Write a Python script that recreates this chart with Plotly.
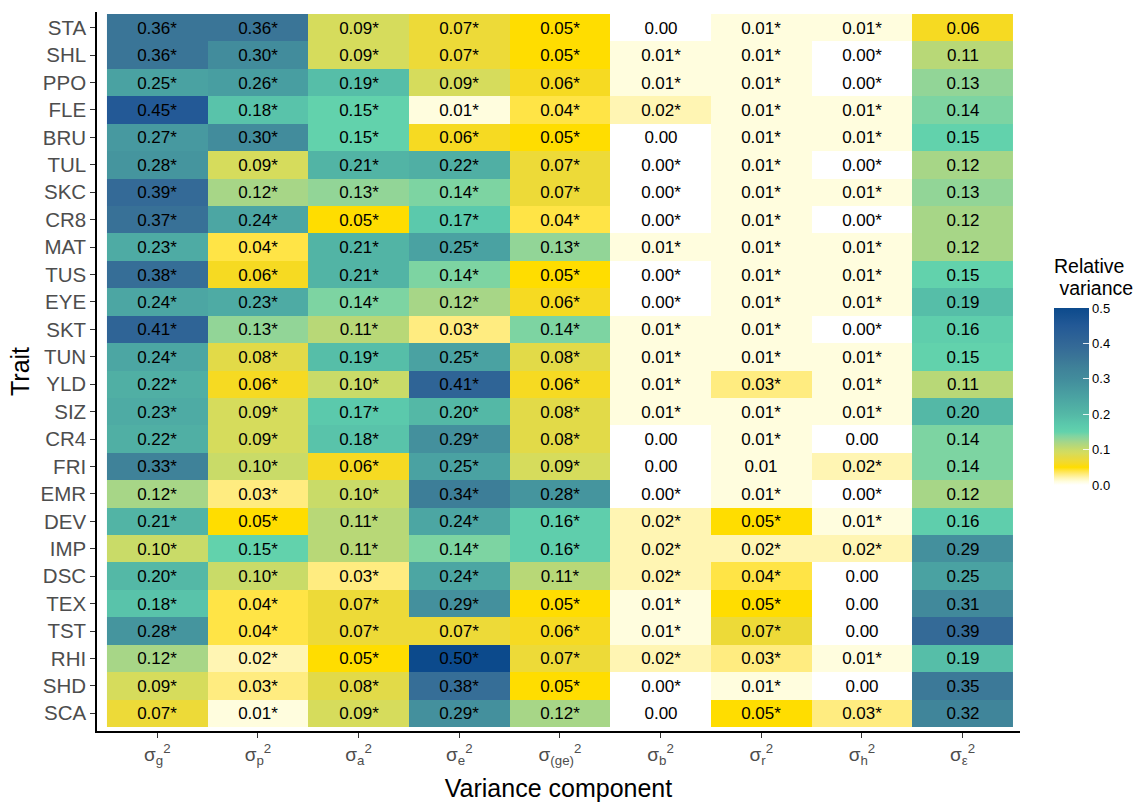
import plotly.graph_objects as go

traits = ["STA", "SHL", "PPO", "FLE", "BRU", "TUL", "SKC", "CR8", "MAT", "TUS", "EYE", "SKT", "TUN",
          "YLD", "SIZ", "CR4", "FRI", "EMR", "DEV", "IMP", "DSC", "TEX", "TST", "RHI", "SHD", "SCA"]

components = ["σ<sub>g</sub><sup>2</sup>", "σ<sub>p</sub><sup>2</sup>", "σ<sub>a</sub><sup>2</sup>",
              "σ<sub>e</sub><sup>2</sup>", "σ<sub>(ge)</sub><sup>2</sup>", "σ<sub>b</sub><sup>2</sup>",
              "σ<sub>r</sub><sup>2</sup>", "σ<sub>h</sub><sup>2</sup>", "σ<sub>ε</sub><sup>2</sup>"]

# relative variance per component (rows follow `traits`)
var_g = [0.36, 0.36, 0.25, 0.45, 0.27, 0.28, 0.39, 0.37, 0.23, 0.38, 0.24, 0.41, 0.24,
         0.22, 0.23, 0.22, 0.33, 0.12, 0.21, 0.10, 0.20, 0.18, 0.28, 0.12, 0.09, 0.07]
var_p = [0.36, 0.30, 0.26, 0.18, 0.30, 0.09, 0.12, 0.24, 0.04, 0.06, 0.23, 0.13, 0.08,
         0.06, 0.09, 0.09, 0.10, 0.03, 0.05, 0.15, 0.10, 0.04, 0.04, 0.02, 0.03, 0.01]
var_a = [0.09, 0.09, 0.19, 0.15, 0.15, 0.21, 0.13, 0.05, 0.21, 0.21, 0.14, 0.11, 0.19,
         0.10, 0.17, 0.18, 0.06, 0.10, 0.11, 0.11, 0.03, 0.07, 0.07, 0.05, 0.08, 0.09]
var_e = [0.07, 0.07, 0.09, 0.01, 0.06, 0.22, 0.14, 0.17, 0.25, 0.14, 0.12, 0.03, 0.25,
         0.41, 0.20, 0.29, 0.25, 0.34, 0.24, 0.14, 0.24, 0.29, 0.07, 0.50, 0.38, 0.29]
var_ge = [0.05, 0.05, 0.06, 0.04, 0.05, 0.07, 0.07, 0.04, 0.13, 0.05, 0.06, 0.14, 0.08,
          0.06, 0.08, 0.08, 0.09, 0.28, 0.16, 0.16, 0.11, 0.05, 0.06, 0.07, 0.05, 0.12]
var_b = [0.00, 0.01, 0.01, 0.02, 0.00, 0.00, 0.00, 0.00, 0.01, 0.00, 0.00, 0.01, 0.01,
         0.01, 0.01, 0.00, 0.00, 0.00, 0.02, 0.02, 0.02, 0.01, 0.01, 0.02, 0.00, 0.00]
var_r = [0.01, 0.01, 0.01, 0.01, 0.01, 0.01, 0.01, 0.01, 0.01, 0.01, 0.01, 0.01, 0.01,
         0.03, 0.01, 0.01, 0.01, 0.01, 0.05, 0.02, 0.04, 0.05, 0.07, 0.03, 0.01, 0.05]
var_h = [0.01, 0.00, 0.00, 0.01, 0.01, 0.00, 0.01, 0.00, 0.01, 0.01, 0.01, 0.00, 0.01,
         0.01, 0.01, 0.00, 0.02, 0.00, 0.01, 0.02, 0.00, 0.00, 0.00, 0.01, 0.00, 0.03]
var_eps = [0.06, 0.11, 0.13, 0.14, 0.15, 0.12, 0.13, 0.12, 0.12, 0.15, 0.19, 0.16, 0.15,
           0.11, 0.20, 0.14, 0.14, 0.12, 0.16, 0.29, 0.25, 0.31, 0.39, 0.19, 0.35, 0.32]

# significance flags (1 = marked with *)
sig_g = [1] * 26
sig_p = [1] * 26
sig_a = [1] * 26
sig_e = [1] * 26
sig_ge = [1] * 26
sig_b = [0, 1, 1, 1, 0, 1, 1, 1, 1, 1, 1, 1, 1, 1, 1, 0, 0, 1, 1, 1, 1, 1, 1, 1, 1, 0]
sig_r = [1, 1, 1, 1, 1, 1, 1, 1, 1, 1, 1, 1, 1, 1, 1, 1, 0, 1, 1, 1, 1, 1, 1, 1, 1, 1]
sig_h = [1, 1, 1, 1, 1, 1, 1, 1, 1, 1, 1, 1, 1, 1, 1, 0, 1, 1, 1, 1, 0, 0, 0, 1, 0, 1]
sig_eps = [0] * 26

cbar_ticks = [0.0, 0.1, 0.2, 0.3, 0.4, 0.5]
legend_title_lines = ["Relative", " variance"]

columns = [var_g, var_p, var_a, var_e, var_ge, var_b, var_r, var_h, var_eps]
sigs = [sig_g, sig_p, sig_a, sig_e, sig_ge, sig_b, sig_r, sig_h, sig_eps]

n_rows = len(traits)
n_cols = len(components)
z = [[columns[j][i] for j in range(n_cols)] for i in range(n_rows)]
text = [[f"{columns[j][i]:.2f}" + ("*" if sigs[j][i] else "") for j in range(n_cols)]
        for i in range(n_rows)]

colorscale = [
    [0.00, "#FFFFFF"],
    [0.02, "#FFFDDE"],
    [0.04, "#FFF5B3"],
    [0.06, "#FFEC80"],
    [0.08, "#FFE446"],
    [0.10, "#FFDD00"],
    [0.12, "#F6DA22"],
    [0.14, "#EDDA38"],
    [0.16, "#E2DA48"],
    [0.18, "#D6DC5C"],
    [0.20, "#C9DB68"],
    [0.22, "#B8D877"],
    [0.24, "#A7D687"],
    [0.26, "#92D597"],
    [0.28, "#7DD4A2"],
    [0.30, "#62D2AC"],
    [0.34, "#5BC9AC"],
    [0.40, "#54B8A6"],
    [0.50, "#4AA2A2"],
    [0.60, "#428C9C"],
    [0.66, "#3F8299"],
    [0.72, "#3A7597"],
    [0.78, "#346A97"],
    [0.82, "#2F6496"],
    [0.90, "#235996"],
    [1.00, "#0C4A8C"],
]

font_family = "Liberation Sans, Arial, sans-serif"

# plot-area geometry (pixels)
PX0, PX1, PY0, PY1 = 97, 1020, 12, 731
W, H = 1138, 803


def px_to_paper_x(px):
    return (px - PX0) / (PX1 - PX0)


def px_to_paper_y(py):
    return (PY1 - py) / (PY1 - PY0)


fig = go.Figure(
    go.Heatmap(
        z=z,
        x=list(range(n_cols)),
        y=list(range(n_rows)),
        text=text,
        texttemplate="%{text}",
        textfont=dict(size=17, color="black", family=font_family),
        colorscale=colorscale,
        zmin=0,
        zmax=0.5,
        xgap=0,
        ygap=0,
        hoverinfo="skip",
        colorbar=dict(
            x=px_to_paper_x(1054),
            xanchor="left",
            y=px_to_paper_y(396.5),
            yanchor="middle",
            len=177,
            lenmode="pixels",
            thickness=35,
            thicknessmode="pixels",
            outlinewidth=0,
            xpad=0,
            ypad=0,
            tickvals=cbar_ticks,
            ticktext=[f"{v:.1f}" for v in cbar_ticks],
            ticks="inside",
            ticklen=6,
            tickcolor="rgba(255,255,255,0.85)",
            tickfont=dict(size=13, color="black", family=font_family),
        ),
    )
)

for k, (line, cy) in enumerate(zip(legend_title_lines, [266, 288])):
    fig.add_annotation(
        text=line,
        xref="paper", yref="paper",
        x=px_to_paper_x(1052), y=px_to_paper_y(cy),
        xanchor="left", yanchor="middle",
        align="left",
        showarrow=False,
        font=dict(size=19.5, color="black", family=font_family),
    )

fig.update_layout(
    width=W,
    height=H,
    margin=dict(l=PX0, r=W - PX1, t=PY0, b=H - PY1),
    plot_bgcolor="white",
    paper_bgcolor="white",
    font=dict(family=font_family),
    xaxis=dict(
        range=[-0.599, 8.57],
        tickmode="array",
        tickvals=list(range(n_cols)),
        ticktext=components,
        ticks="outside",
        ticklen=5,
        tickwidth=1.2,
        tickcolor="#333333",
        showline=True,
        linecolor="black",
        linewidth=1.5,
        showgrid=False,
        zeroline=False,
        tickfont=dict(size=19, color="#4D4D4D", family=font_family),
        title=dict(text="Variance component", standoff=13,
                   font=dict(size=25, color="black", family=font_family)),
        automargin=False,
    ),
    yaxis=dict(
        range=[25.646, -0.573],
        tickmode="array",
        tickvals=list(range(n_rows)),
        ticktext=traits,
        ticks="outside",
        ticklen=5,
        tickwidth=1.2,
        tickcolor="#333333",
        showline=True,
        linecolor="black",
        linewidth=1.5,
        showgrid=False,
        zeroline=False,
        tickfont=dict(size=20.5, color="#4D4D4D", family=font_family),
        title=dict(text="Trait", standoff=4,
                   font=dict(size=25, color="black", family=font_family)),
        automargin=False,
    ),
)

fig.write_html("out.html", config={"displayModeBar": False},
               post_script="document.body.style.margin='0px';")
